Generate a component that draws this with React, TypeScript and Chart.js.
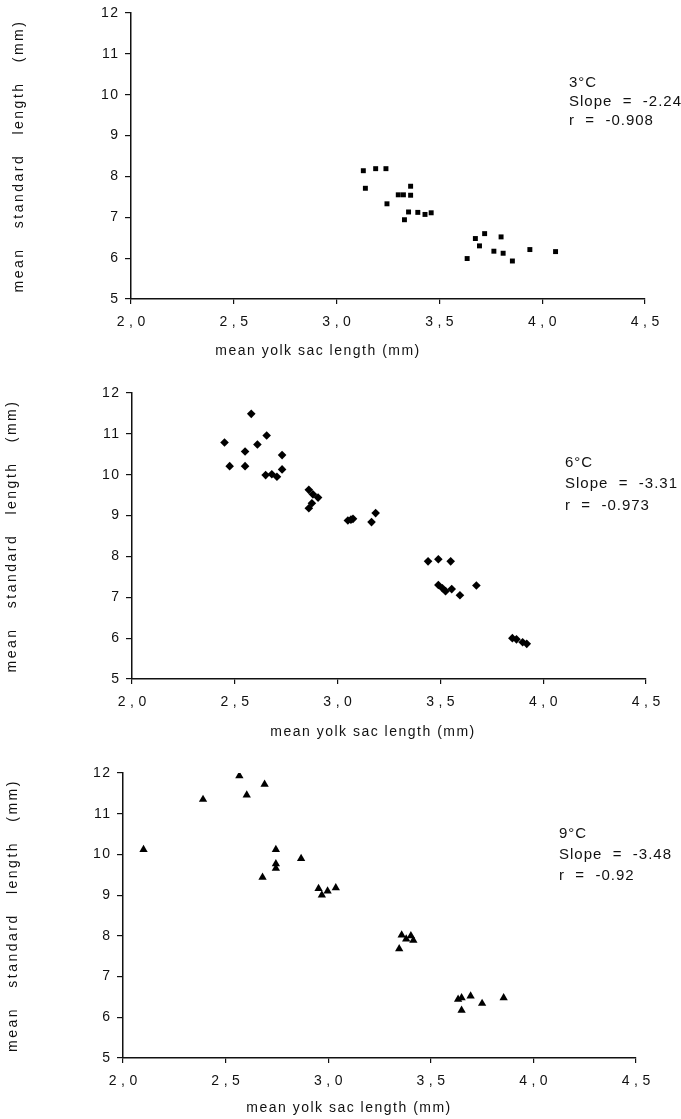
import React, { useEffect, useRef } from "react";
import { Chart, registerables } from "chart.js";

Chart.register(...registerables);

// Axis ticks shared by the three panels
const xTickValues = [2.0, 2.5, 3.0, 3.5, 4.0, 4.5];
const xTickLabels = ["2,0", "2,5", "3,0", "3,5", "4,0", "4,5"];
const yTickValues = [5, 6, 7, 8, 9, 10, 11, 12];
const yTickLabels = ["5", "6", "7", "8", "9", "10", "11", "12"];

const xAxisTitle = "mean yolk sac length (mm)";
const yAxisTitle = "mean   standard   length   (mm)";

// 3 °C rearing temperature
const yolk3C = [3.13, 3.14, 3.19, 3.24, 3.245, 3.30, 3.325, 3.36, 3.36, 3.35, 3.33, 3.395, 3.43, 3.46, 3.635, 3.675, 3.695, 3.72, 3.765, 3.80, 3.81, 3.855, 3.94, 4.065];
const length3C = [8.14, 7.71, 8.19, 8.19, 7.33, 7.55, 7.55, 7.76, 7.54, 7.13, 6.94, 7.12, 7.07, 7.11, 5.99, 6.48, 6.30, 6.60, 6.17, 6.52, 6.12, 5.93, 6.21, 6.16];

// 6 °C rearing temperature
const yolk6C = [2.45, 2.475, 2.55, 2.55, 2.58, 2.61, 2.655, 2.73, 2.73, 2.65, 2.68, 2.705, 2.86, 2.88, 2.905, 2.875, 2.86, 3.05, 3.065, 3.075, 3.165, 3.185, 3.44, 3.49, 3.55, 3.49, 3.51, 3.525, 3.555, 3.595, 3.675, 3.85, 3.87, 3.90, 3.92];
const length6C = [10.79, 10.21, 10.57, 10.21, 11.49, 10.74, 10.96, 10.48, 10.13, 9.99, 10.01, 9.95, 9.63, 9.52, 9.44, 9.30, 9.18, 8.88, 8.90, 8.92, 8.84, 9.06, 7.88, 7.93, 7.88, 7.30, 7.22, 7.15, 7.20, 7.05, 7.29, 6.00, 5.97, 5.90, 5.86];

// 9 °C rearing temperature
const yolk9C = [2.10, 2.39, 2.567, 2.603, 2.69, 2.745, 2.745, 2.745, 2.68, 2.868, 2.953, 2.969, 2.997, 3.037, 3.358, 3.38, 3.403, 3.415, 3.346, 3.633, 3.65, 3.694, 3.75, 3.855, 3.65];
const length9C = [10.12, 11.35, 11.93, 11.46, 11.72, 10.12, 9.77, 9.66, 9.44, 9.90, 9.16, 9.00, 9.10, 9.18, 8.02, 7.92, 8.00, 7.89, 7.68, 6.44, 6.48, 6.52, 6.34, 6.48, 6.17];

const temperatures = ["3°C", "6°C", "9°C"];
const slopes = ["-2.24", "-3.31", "-3.48"];
const correlations = ["-0.908", "-0.973", "-0.92"];

const INK = "#111";
const FONT = '"Liberation Sans", Arial, sans-serif';
const PAGE_W = 681;

type Area = { left: number; right: number; top: number; bottom: number };
type Panel = {
  xs: number[];
  ys: number[];
  pointStyle: string;
  radius: number;
  index: number;
  top: number;
  height: number;
  area: Area;
  xTitleX: number;
  xTitleY: number;
  yTitleX: number;
  noteX: number;
  noteY: number[];
};

const panels: Panel[] = [
  {
    xs: yolk3C, ys: length3C, pointStyle: "rect", radius: 3.5, index: 0,
    top: 0, height: 370,
    area: { left: 131, right: 645, top: 13, bottom: 299 },
    xTitleX: 318, xTitleY: 351, yTitleX: 19,
    noteX: 569, noteY: [83, 102, 121],
  },
  {
    xs: yolk6C, ys: length6C, pointStyle: "rectRot", radius: 4.3, index: 1,
    top: 370, height: 375,
    area: { left: 132, right: 646, top: 393, bottom: 679 },
    xTitleX: 373, xTitleY: 732, yTitleX: 12,
    noteX: 565, noteY: [463, 484, 506],
  },
  {
    xs: yolk9C, ys: length9C, pointStyle: "triangle", radius: 4.8, index: 2,
    top: 745, height: 374,
    area: { left: 123, right: 636, top: 773, bottom: 1058 },
    xTitleX: 349, xTitleY: 1108, yTitleX: 13,
    noteX: 559, noteY: [834, 855, 876],
  },
];

// Draws tick labels, axis titles and the regression note for one panel
const panelTextPlugin = {
  id: "panelText",
  afterDraw(chart: any, _args: any, opts: any) {
    const p: Panel = opts.panel;
    const ctx: CanvasRenderingContext2D = chart.ctx;
    const { left, bottom, top } = chart.chartArea;
    const xs = chart.scales.x;
    const ys = chart.scales.y;
    const c: any = ctx;
    ctx.save();
    ctx.fillStyle = INK;

    // y tick labels
    ctx.font = `14px ${FONT}`;
    c.letterSpacing = "1.5px";
    ctx.textAlign = "right";
    ctx.textBaseline = "middle";
    yTickValues.forEach((v, i) => {
      ctx.fillText(yTickLabels[i], left - 11.5, ys.getPixelForValue(v));
    });

    // x tick labels
    c.letterSpacing = "4.5px";
    ctx.textAlign = "center";
    xTickValues.forEach((v, i) => {
      ctx.fillText(xTickLabels[i], xs.getPixelForValue(v) + 2.25, bottom + 23);
    });

    // x axis title
    ctx.font = `14px ${FONT}`;
    c.letterSpacing = "1.5px";
    ctx.fillText(xAxisTitle, p.xTitleX, p.xTitleY - p.top);

    // y axis title
    c.letterSpacing = "2.5px";
    ctx.save();
    ctx.translate(p.yTitleX, (top + bottom) / 2);
    ctx.rotate(-Math.PI / 2);
    ctx.fillText(yAxisTitle, 0, 0);
    ctx.restore();

    // temperature, slope and correlation
    ctx.font = `15px ${FONT}`;
    c.letterSpacing = "1px";
    ctx.textAlign = "left";
    const lines = [
      temperatures[p.index],
      `Slope  =  ${slopes[p.index]}`,
      `r  =  ${correlations[p.index]}`,
    ];
    lines.forEach((t, i) => ctx.fillText(t, p.noteX, p.noteY[i] - p.top));
    ctx.restore();
  },
};

function ScatterPanel({ panel }: { panel: Panel }) {
  const ref = useRef<HTMLCanvasElement | null>(null);

  useEffect(() => {
    const canvas = ref.current;
    if (!canvas) return;
    const a = panel.area;
    const xAxisHeight = panel.height - (a.bottom - panel.top);
    const chart = new Chart(canvas, {
      type: "scatter",
      data: {
        datasets: [
          {
            data: panel.xs.map((x, i) => ({ x, y: panel.ys[i] })),
            pointStyle: panel.pointStyle as any,
            pointRadius: panel.radius,
            backgroundColor: "#000",
            borderColor: "#000",
            borderWidth: 0,
            showLine: false,
          },
        ],
      },
      options: {
        animation: false,
        responsive: false,
        devicePixelRatio: 1,
        events: [],
        layout: {
          padding: { left: 0, right: PAGE_W - a.right, top: a.top - panel.top, bottom: 0 },
        },
        plugins: {
          legend: { display: false },
          tooltip: { enabled: false },
          panelText: { panel },
        } as any,
        scales: {
          x: {
            type: "linear",
            min: 2,
            max: 4.5,
            afterBuildTicks: (s: any) => {
              s.ticks = xTickValues.map((v) => ({ value: v }));
            },
            afterFit: (s: any) => {
              s.height = xAxisHeight;
            },
            ticks: { display: false },
            grid: {
              display: true,
              drawOnChartArea: false,
              drawTicks: true,
              tickLength: 5,
              color: INK,
              lineWidth: 1.2,
            },
            border: { display: true, color: INK, width: 1.5 },
          },
          y: {
            type: "linear",
            min: 5,
            max: 12,
            afterBuildTicks: (s: any) => {
              s.ticks = yTickValues.map((v) => ({ value: v }));
            },
            afterFit: (s: any) => {
              s.width = a.left;
            },
            ticks: { display: false },
            grid: {
              display: true,
              drawOnChartArea: false,
              drawTicks: true,
              tickLength: 6,
              color: INK,
              lineWidth: 1.2,
            },
            border: { display: true, color: INK, width: 1.5 },
          },
        },
      },
      plugins: [panelTextPlugin as any],
    });
    return () => chart.destroy();
  }, [panel]);

  return (
    <canvas
      ref={ref}
      width={PAGE_W}
      height={panel.height}
      style={{
        position: "absolute",
        left: 0,
        top: panel.top,
        width: PAGE_W,
        height: panel.height,
        display: "block",
      }}
    />
  );
}

export default function App() {
  return (
    <div
      style={{
        position: "absolute",
        left: 0,
        top: 0,
        width: PAGE_W,
        height: 1119,
        background: "#fff",
        overflow: "hidden",
      }}
    >
      {panels.map((p) => (
        <ScatterPanel key={p.index} panel={p} />
      ))}
    </div>
  );
}
